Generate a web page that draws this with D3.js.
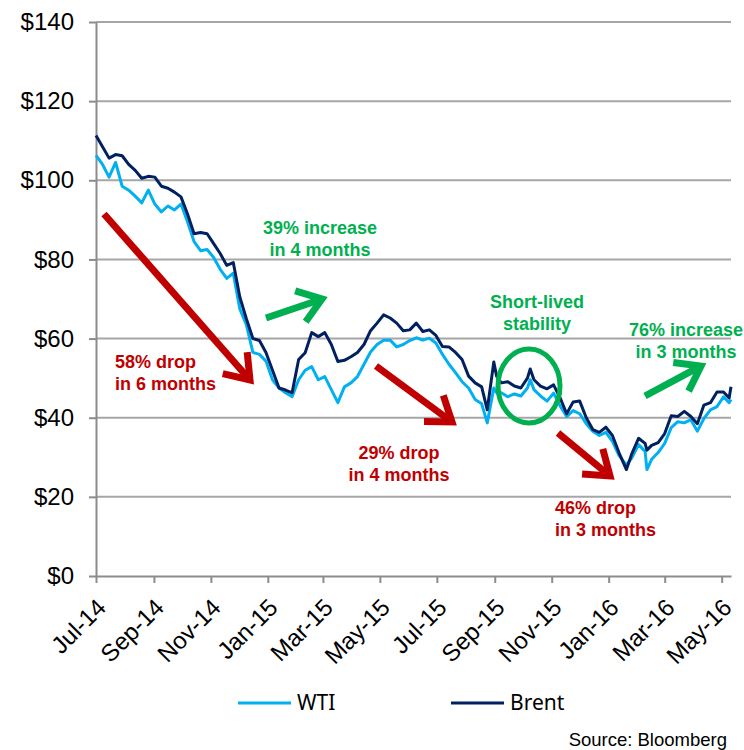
<!DOCTYPE html>
<html>
<head>
<meta charset="utf-8">
<script src="https://cdn.jsdelivr.net/npm/d3@7"></script>
<style>
  body { margin: 0; background: #fff; }
  svg { display: block; font-family: Arial, "Liberation Sans", sans-serif; }
</style>
</head>
<body>
<div id="chart"></div>
<script>
// weekly-ish closing prices
let dates = ["2014-07-01","2014-07-08","2014-07-15","2014-07-22","2014-07-29","2014-08-05","2014-08-12","2014-08-19","2014-08-26",
  "2014-09-02","2014-09-09","2014-09-16","2014-09-23","2014-09-30","2014-10-07","2014-10-14","2014-10-21","2014-10-28",
  "2014-11-04","2014-11-11","2014-11-18","2014-11-25","2014-12-02","2014-12-09","2014-12-16","2014-12-23","2014-12-30",
  "2015-01-06","2015-01-13","2015-01-20","2015-01-27","2015-02-03","2015-02-10","2015-02-17","2015-02-24","2015-03-03",
  "2015-03-10","2015-03-17","2015-03-24","2015-03-31","2015-04-07","2015-04-14","2015-04-21","2015-04-28","2015-05-05",
  "2015-05-12","2015-05-19","2015-05-26","2015-06-02","2015-06-09","2015-06-16","2015-06-23","2015-06-30","2015-07-07",
  "2015-07-14","2015-07-21","2015-07-28","2015-08-04","2015-08-11","2015-08-18","2015-08-24","2015-08-31","2015-09-03",
  "2015-09-08","2015-09-15","2015-09-22","2015-09-29","2015-10-06","2015-10-09","2015-10-13","2015-10-20","2015-10-27",
  "2015-11-03","2015-11-10","2015-11-17","2015-11-24","2015-12-01","2015-12-08","2015-12-15","2015-12-22","2015-12-29",
  "2016-01-05","2016-01-12","2016-01-20","2016-01-26","2016-02-02","2016-02-09","2016-02-11","2016-02-16","2016-02-23",
  "2016-03-01","2016-03-08","2016-03-15","2016-03-22","2016-03-29","2016-04-05","2016-04-12","2016-04-19","2016-04-26",
  "2016-05-03","2016-05-09","2016-05-11"];

let brent = [111.3,108.5,105.6,106.5,106.2,104,102.5,100.5,101,
  100.8,98.5,98,97,95.8,91.5,86.5,86.8,86.5,
  84,81.5,78.5,79.2,70.5,65,60,59.5,56.5,
  52,47.5,47,46.3,54.7,56.4,61.5,60.5,61.5,
  58.5,54.2,54.5,55.4,56.5,58.5,62,63.9,66,
  65.2,63.9,62,62.2,63.9,61.8,62.2,60.8,58,
  57.9,56.5,54.7,50.5,48.8,47.8,42,54.1,50.5,
  48.8,49.1,48,47.5,50,52.3,49.6,48,47.3,
  48.3,45,41,44,44.2,40,37,36.3,37.6,
  35.5,31.2,26.9,31,34.8,33.5,31.8,33,33.7,
  36,40.5,40.3,41.6,40.3,38.5,43.2,43.8,46.5,
  46.5,45,47.8];

let wti = [106.3,104,100.8,104.5,98.5,97.5,96,94.3,97.5,
  94,92,93.5,92.5,94,89.5,84.5,82.2,82.5,
  80.5,77.5,75.2,76.5,67.5,63.5,56.5,56,54.3,
  49.6,47.5,46.3,45.3,49.6,52,52.9,49.6,50.4,
  47.1,43.8,47.8,48.8,50.4,53.5,56.6,58.5,59.6,
  59.6,57.9,58.5,59.5,60.2,59.6,60.1,58.9,56,
  53.5,51.4,49.1,47.5,44.6,43.5,38.7,47.5,46.3,
  46.3,45.3,46,45.5,47.5,49.6,47.1,45.5,44.2,
  46.2,43,40.3,41.8,41,38.5,36.6,35.5,36.3,
  34,30.5,28,29.9,33.2,31.5,26.9,29.5,31.2,
  33.5,37.5,39,38.7,39.5,36.6,39.8,42,42.8,
  45.3,43.8,44.6];

let yTicks = [0, 20, 40, 60, 80, 100, 120, 140];
let xTicks = ["2014-07-01","2014-09-01","2014-11-01","2015-01-01","2015-03-01","2015-05-01",
  "2015-07-01","2015-09-01","2015-11-01","2016-01-01","2016-03-01","2016-05-01"];

let seriesNames = ["WTI", "Brent"];
let seriesColors = ["#00B0F0", "#002060"];

let width = 744, height = 750;
let margin = {top: 22, right: 13, bottom: 174, left: 96};
let parse = d3.timeParse("%Y-%m-%d");

let svg = d3.select("#chart").append("svg")
    .attr("width", width)
    .attr("height", height);

let x = d3.scaleTime()
    .domain([parse("2014-07-01"), parse("2016-05-11")])
    .range([margin.left, width - margin.right]);

let y = d3.scaleLinear()
    .domain([0, 140])
    .range([height - margin.bottom, margin.top]);

// gridlines
svg.append("g")
    .selectAll("line")
    .data(yTicks.filter(d => d > 0))
    .enter().append("line")
    .attr("x1", margin.left).attr("x2", width - margin.right)
    .attr("y1", d => y(d)).attr("y2", d => y(d))
    .attr("stroke", "#a6a6a6")
    .attr("stroke-width", 2);

let yAxis = d3.axisLeft(y)
    .tickValues(yTicks)
    .tickSize(7)
    .tickSizeOuter(0)
    .tickFormat(d => "$" + d);

let yAxisGroup = svg.append("g")
    .attr("class", "y-axis axis")
    .attr("transform", "translate(" + margin.left + ",0)")
    .call(yAxis);

let xAxis = d3.axisBottom(x)
    .tickValues(xTicks.map(parse))
    .tickSize(7)
    .tickSizeOuter(0)
    .tickFormat(d3.timeFormat("%b-%y"));

let xAxisGroup = svg.append("g")
    .attr("class", "x-axis axis")
    .attr("transform", "translate(0," + y(0) + ")")
    .call(xAxis);

svg.selectAll(".axis path, .axis line")
    .attr("stroke", "#8c8c8c")
    .attr("stroke-width", 2);

yAxisGroup.selectAll("text")
    .attr("x", -22)
    .attr("font-size", 24)
    .attr("fill", "#000");

xAxisGroup.selectAll("text")
    .attr("x", 0).attr("y", 0).attr("dy", "0.35em")
    .attr("text-anchor", "end")
    .attr("transform", "translate(5,27) rotate(-45)")
    .attr("font-size", 24)
    .attr("fill", "#000");

// price lines
let line = d3.line()
    .x((d, i) => x(parse(dates[i])))
    .y(d => y(d));

[wti, brent].forEach(function(vals, i){
    svg.append("path")
        .datum(vals)
        .attr("fill", "none")
        .attr("stroke", seriesColors[i])
        .attr("stroke-width", 3)
        .attr("stroke-linejoin", "round")
        .attr("d", line);
});

// annotations
let red = "#C00000", green = "#00B050";

function arrow(x1, y1, x2, y2, color){
    let ang = Math.atan2(y2 - y1, x2 - x1);
    let len = 28, spread = 0.62;
    let g = svg.append("g")
        .attr("stroke", color)
        .attr("stroke-width", 7)
        .attr("fill", "none");
    g.append("line")
        .attr("x1", x1).attr("y1", y1)
        .attr("x2", x2 - 3 * Math.cos(ang)).attr("y2", y2 - 3 * Math.sin(ang));
    g.append("polyline")
        .attr("stroke-linejoin", "miter")
        .attr("points", [
            [x2 - len * Math.cos(ang - spread), y2 - len * Math.sin(ang - spread)],
            [x2, y2],
            [x2 - len * Math.cos(ang + spread), y2 - len * Math.sin(ang + spread)]
        ].map(p => p.join(",")).join(" "));
}

arrow(104, 214, 250, 380, red);
arrow(376, 366, 452, 422, red);
arrow(558, 433, 610, 476, red);
arrow(266, 318, 322, 299, green);
arrow(645, 396, 701, 366, green);

svg.append("ellipse")
    .attr("cx", 529).attr("cy", 386)
    .attr("rx", 31).attr("ry", 37)
    .attr("fill", "none")
    .attr("stroke", green)
    .attr("stroke-width", 5);

let notes = [
    {t: ["58% drop", "in 6 months"], x: 115, y: 368, c: red, a: "start"},
    {t: ["39% increase", "in 4 months"], x: 320, y: 234, c: green, a: "middle"},
    {t: ["Short-lived", "stability"], x: 537, y: 308, c: green, a: "middle"},
    {t: ["76% increase", "in 3 months"], x: 686, y: 336, c: green, a: "middle"},
    {t: ["29% drop", "in 4 months"], x: 399, y: 459, c: red, a: "middle"},
    {t: ["46% drop", "in 3 months"], x: 555, y: 514, c: red, a: "start"}
];

notes.forEach(function(n){
    let txt = svg.append("text")
        .attr("x", n.x).attr("y", n.y)
        .attr("fill", n.c)
        .attr("font-weight", "bold")
        .attr("font-size", 18)
        .attr("text-anchor", n.a);
    n.t.forEach(function(s, j){
        txt.append("tspan").attr("x", n.x).attr("dy", j ? 22 : 0).text(s);
    });
});

// legend
let legend = svg.append("g");
[238, 451].forEach(function(lx, i){
    legend.append("line")
        .attr("x1", lx).attr("x2", lx + 53)
        .attr("y1", 703).attr("y2", 703)
        .attr("stroke", seriesColors[i])
        .attr("stroke-width", 3);
    legend.append("text")
        .attr("x", lx + 59).attr("y", 703)
        .attr("dy", "0.35em")
        .attr("font-family", "'Noto Sans', sans-serif")
        .attr("font-size", 21)
        .attr("fill", "#000")
        .text(seriesNames[i]);
});

svg.append("text")
    .attr("x", 727).attr("y", 746)
    .attr("text-anchor", "end")
    .attr("font-size", 18.5)
    .attr("fill", "#000")
    .text("Source: Bloomberg");
</script>
</body>
</html>
